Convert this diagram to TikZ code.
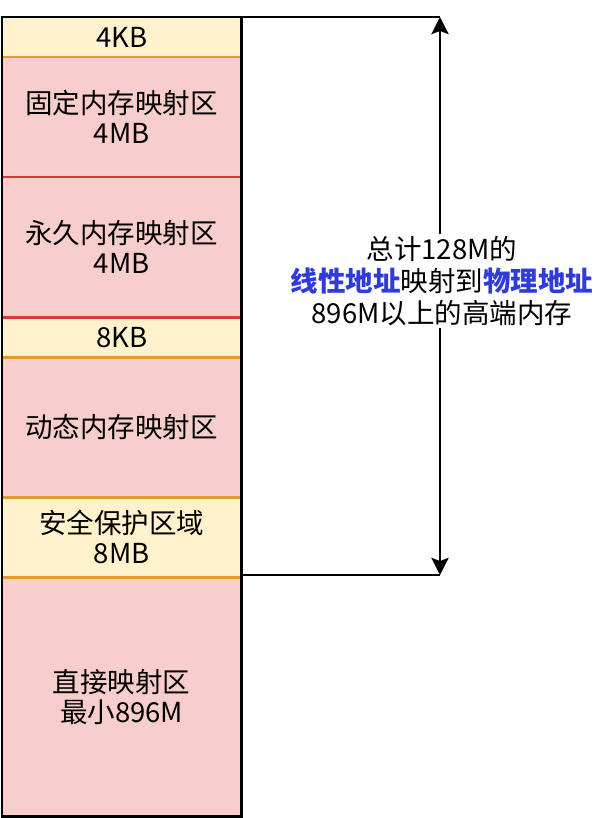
\documentclass[tikz,border=0pt]{standalone}
\usepackage{fontspec}
\setmainfont{Noto Sans CJK SC}
\usetikzlibrary{arrows.meta}
\definecolor{ylw}{HTML}{FFF2CC}
\definecolor{pnk}{HTML}{F8CECC}
\definecolor{orl}{HTML}{E39A30}
\definecolor{rdl}{HTML}{D83838}
\definecolor{blu}{HTML}{2F3BDB}
\begin{document}
\begin{tikzpicture}[x=1pt,y=-1pt,
  seg/.style={rectangle,inner sep=0pt,minimum width=239pt,anchor=north west,align=center,
    font=\fontsize{27.5}{30}\selectfont,text=black},
  yseg/.style={seg,fill=ylw},
  pseg/.style={seg,fill=pnk},
  divo/.style={draw=orl,line width=2.2pt},
  divr/.style={draw=rdl,line width=2.2pt},
  brk/.style={draw=black,line width=2.8pt},
  tip/.style={-{Stealth[length=17pt,width=17pt,inset=3pt]}},
  lbl/.style={fill=white,inner sep=2pt,align=center,font=\fontsize{27.5}{32}\selectfont}
]
\useasboundingbox[fill=white] (0,0) rectangle (598,818);
\node[yseg,minimum height=40pt]  (s1) at (2,17)  {4KB};
\node[pseg,minimum height=120pt] (s2) at (2,57)  {固定内存映射区\\4MB};
\node[pseg,minimum height=140pt] (s3) at (2,177) {永久内存映射区\\4MB};
\node[yseg,minimum height=40pt]  (s4) at (2,317) {8KB};
\node[pseg,minimum height=140pt] (s5) at (2,357) {动态内存映射区};
\node[yseg,minimum height=80pt]  (s6) at (2,497) {安全保护区域\\8MB};
\node[pseg,minimum height=239pt] (s7) at (2,577) {直接映射区\\最小896M};
\path[divo] (s1.south west) -- (s1.south east);
\path[divr] (s2.south west) -- (s2.south east);
\path[divr] (s3.south west) -- (s3.south east);
\path[divo] (s4.south west) -- (s4.south east);
\path[divo] (s5.south west) -- (s5.south east);
\path[divo] (s6.south west) -- (s6.south east);
\path[brk] (s1.north west) rectangle (s7.south east);
\coordinate (top) at (440,17);
\coordinate (bot) at (440,575);
\path[brk] (s1.north east) -- (top);
\path[brk] (s6.south east |- bot) -- (bot);
\node[lbl] (txt) at (442,281) {总计128M的\\{\color{blu}\bfseries 线性地址}映射到{\color{blu}\bfseries 物理地址}\\896M以上的高端内存};
\path[brk,tip] (txt.north -| top) -- (top);
\path[brk,tip] (txt.south -| bot) -- (bot);
\end{tikzpicture}
\end{document}
